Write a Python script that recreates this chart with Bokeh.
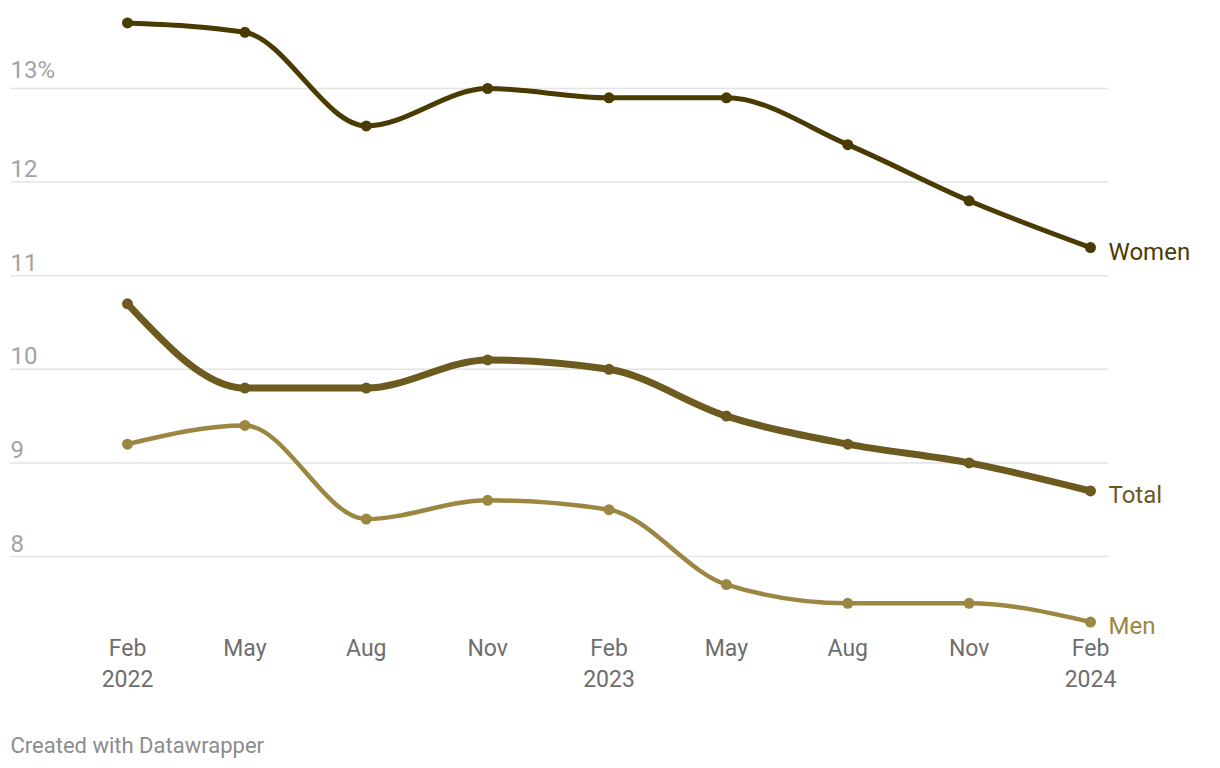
import datetime as dt
import numpy as np
from bokeh.plotting import figure
from bokeh.models import ColumnDataSource
from bokeh.core.properties import value
from bokeh.embed import file_html
from bokeh.resources import INLINE

# ---------------- data ----------------
dates = ["2022-02-01", "2022-05-01", "2022-08-01", "2022-11-01", "2023-02-01",
         "2023-05-01", "2023-08-01", "2023-11-01", "2024-02-01"]
women = [13.7, 13.6, 12.6, 13.0, 12.9, 12.9, 12.4, 11.8, 11.3]
total = [10.7, 9.8, 9.8, 10.1, 10.0, 9.5, 9.2, 9.0, 8.7]
men = [9.2, 9.4, 8.4, 8.6, 8.5, 7.7, 7.5, 7.5, 7.3]
month_labels = ["Feb", "May", "Aug", "Nov", "Feb", "May", "Aug", "Nov", "Feb"]
year_labels = ["2022", "", "", "", "2023", "", "", "", "2024"]
y_ticks = [8, 9, 10, 11, 12, 13]
y_tick_labels = ["8", "9", "10", "11", "12", "13%"]
series_names = ["Women", "Total", "Men"]
footer = "Created with Datawrapper"

# ---------------- layout ----------------
W, H = 1204, 766
FONT = "Roboto"
colors = {"Women": "#4a3b02", "Total": "#6d5a1e", "Men": "#9b8642"}
widths = {"Women": 5, "Total": 7, "Men": 4.5}
msize = {"Women": 11, "Total": 11, "Men": 11}

def to_ms(s):
    d = dt.datetime.strptime(s, "%Y-%m-%d").replace(tzinfo=dt.timezone.utc)
    return d.timestamp() * 1000.0

xs = np.array([to_ms(d) for d in dates])
px_first, px_last = 127.0, 1090.0
sx = (px_last - px_first) / (xs[-1] - xs[0])
x_start = xs[0] - px_first / sx
x_end = x_start + W / sx

py_13, py_8 = 88.0, 556.0
sy = (py_8 - py_13) / 5.0
y_end = 13 + py_13 / sy
y_start = y_end - H / sy

def xd(px):
    return x_start + px / sx

def yd(py):
    return y_end - py / sy

p = figure(width=W, height=H, output_backend="svg", toolbar_location=None,
           x_range=(x_start, x_end), y_range=(y_start, y_end),
           min_border=0, min_border_left=0, min_border_right=0,
           min_border_top=0, min_border_bottom=0)
p.axis.visible = False
p.grid.visible = False
p.outline_line_color = None
p.background_fill_color = "white"
p.border_fill_color = "white"

# gridlines
gx0, gx1 = xd(10), xd(1108)
p.segment(x0=[gx0] * len(y_ticks), x1=[gx1] * len(y_ticks), y0=y_ticks, y1=y_ticks,
          line_color="#e3e3e3", line_width=1.5)
# y labels above gridlines
p.text(x=[gx0] * len(y_ticks), y=y_ticks, text=y_tick_labels,
       text_font=value(FONT), text_font_size="24px", text_color="#a3a3a3",
       text_align="left", text_baseline="bottom", y_offset=-5)


def monotone_tangents(x, y):
    n = len(x)
    t = np.zeros(n)
    for i in range(1, n - 1):
        h0 = x[i] - x[i - 1]
        h1 = x[i + 1] - x[i]
        s0 = (y[i] - y[i - 1]) / h0
        s1 = (y[i + 1] - y[i]) / h1
        pp = (s0 * h1 + s1 * h0) / (h0 + h1)
        t[i] = (np.sign(s0) + np.sign(s1)) * min(abs(s0), abs(s1), 0.5 * abs(pp))
    h = x[1] - x[0]
    t[0] = (3 * (y[1] - y[0]) / h - t[1]) / 2
    h = x[-1] - x[-2]
    t[-1] = (3 * (y[-1] - y[-2]) / h - t[-2]) / 2
    return t


series = {"Women": women, "Total": total, "Men": men}
for name in series_names:
    ys = np.array(series[name], dtype=float)
    t = monotone_tangents(xs, ys)
    dx = (xs[1:] - xs[:-1]) / 3.0
    src = ColumnDataSource(dict(
        x0=xs[:-1], y0=ys[:-1], x1=xs[1:], y1=ys[1:],
        cx0=xs[:-1] + dx, cy0=ys[:-1] + dx * t[:-1],
        cx1=xs[1:] - dx, cy1=ys[1:] - dx * t[1:]))
    p.bezier(x0="x0", y0="y0", x1="x1", y1="y1", cx0="cx0", cy0="cy0",
             cx1="cx1", cy1="cy1", source=src, line_color=colors[name],
             line_width=widths[name], line_cap="round", line_join="round")
    p.scatter(x=xs, y=ys, size=msize[name], fill_color=colors[name], line_color=None)
    p.text(x=[xs[-1]], y=[ys[-1]], text=[name], text_font=value(FONT),
           text_font_size="24px", text_color=colors[name], text_align="left",
           text_baseline="middle", x_offset=18, y_offset=4)

# x labels
p.text(x=xs, y=[yd(648)] * len(xs), text=month_labels, text_font=value(FONT),
       text_font_size="23px", text_color="#6e6e6e", text_align="center",
       text_baseline="middle")
p.text(x=xs, y=[yd(678)] * len(xs), text=year_labels, text_font=value(FONT),
       text_font_size="23px", text_color="#6e6e6e", text_align="center",
       text_baseline="middle")

# footer
p.text(x=[xd(10)], y=[yd(745)], text=[footer], text_font=value(FONT),
       text_font_size="22px", text_color="#8c8c8c", text_align="left",
       text_baseline="middle")

open("out.html", "w").write(file_html(p, INLINE))
